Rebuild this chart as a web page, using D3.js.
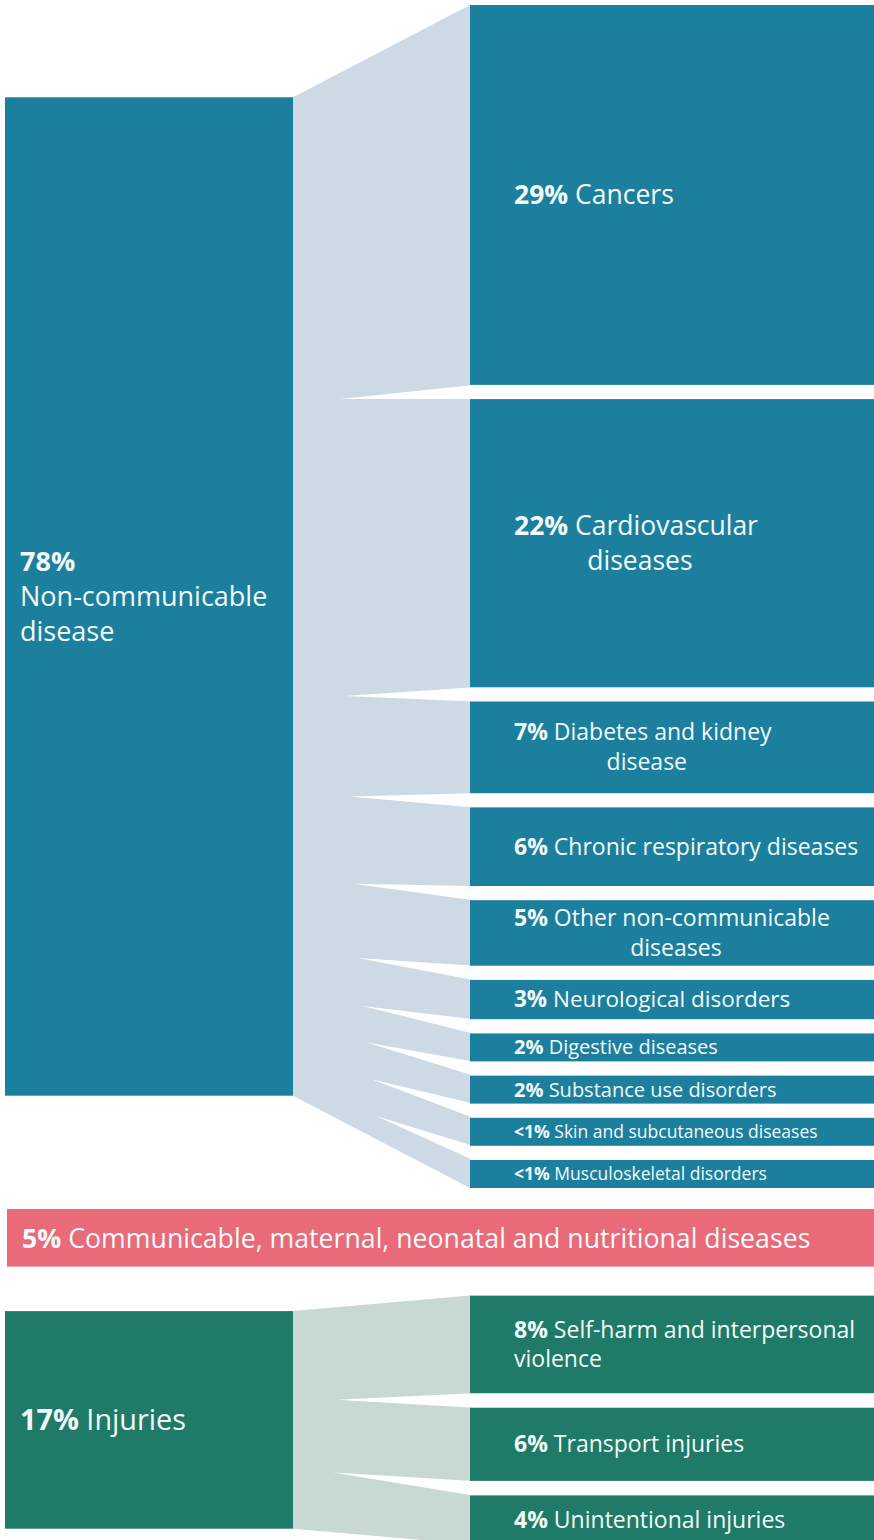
<!DOCTYPE html>
<html><head><meta charset="utf-8">
<script src="https://cdn.jsdelivr.net/npm/d3@7/dist/d3.min.js"></script>
<style>body{margin:0;background:#fff}svg{display:block}</style>
</head><body>
<script>
// ---------- DATA ----------
const groupCategories = ["Non-communicable disease", "Communicable, maternal, neonatal and nutritional diseases", "Injuries"];
const groupValues = [78, 5, 17];
const groupLabels = ["78%", "5%", "17%"];

const ncdCategories = ["Cancers", "Cardiovascular diseases", "Diabetes and kidney disease", "Chronic respiratory diseases",
  "Other non-communicable diseases", "Neurological disorders", "Digestive diseases", "Substance use disorders",
  "Skin and subcutaneous diseases", "Musculoskeletal disorders"];
const ncdValues = [29, 22, 7, 6, 5, 3, 2, 2, 0.5, 0.5];
const ncdLabels = ["29%", "22%", "7%", "6%", "5%", "3%", "2%", "2%", "<1%", "<1%"];
// text lines for the child labels (line 1, line 2)
const ncdLines = [["Cancers"], ["Cardiovascular", "diseases"], ["Diabetes and kidney", "disease"], ["Chronic respiratory diseases"],
  ["Other non-communicable", "diseases"], ["Neurological disorders"], ["Digestive diseases"], ["Substance use disorders"],
  ["Skin and subcutaneous diseases"], ["Musculoskeletal disorders"]];

const injCategories = ["Self-harm and interpersonal violence", "Transport injuries", "Unintentional injuries"];
const injValues = [8, 6, 4];
const injLabels = ["8%", "6%", "4%"];
const injLines = [["Self-harm and interpersonal", "violence"], ["Transport injuries"], ["Unintentional injuries"]];

// ---------- LAYOUT ----------
const W = 874, H = 1540;
const FONT = "'Open Sans', 'Noto Sans', sans-serif";
const C = {
  ncd: "#1c7f9d", ncdLink: "#cdd9e5",
  comm: "#e96b79",
  inj: "#1f7b67", injLink: "#c8d9d3",
  text: "#f2fafb"
};

const svg = d3.select("body").append("svg").attr("width", W).attr("height", H);

const leftX0 = 5, leftX1 = 293, rightX0 = 470, rightX1 = 874;
const groupScale = d3.scaleLinear().domain([0, 1]).range([0, 12.8]);   // px per %
const childScale = d3.scaleLinear().domain([0, 1]).range([0, 13.1]);
const injChildScale = d3.scaleLinear().domain([0, 1]).range([0, 12.2]);

function childFont(v) { return v >= 10 ? 26.5 : v >= 5 ? 23 : v >= 3 ? 22.5 : v >= 2 ? 20 : 17.5; }

function drawBlock(opts) {
  const { top, values, scale, minH, gap, groupValue, color, linkColor, lines, labels, groupLines, groupFont, groupLineH, tipBase, tipStep, tipX0, tipXStep, center2, childFontFn } = opts;
  const heights = values.map(v => Math.max(minH, scale(v)));
  const ys = [];
  let y = top;
  heights.forEach(h => { ys.push(y); y += h + gap; });
  const rightBottom = ys[ys.length - 1] + heights[heights.length - 1];
  const mid = (top + rightBottom) / 2;
  const lh = groupScale(groupValue);
  const lTop = mid - lh / 2, lBot = mid + lh / 2;

  const g = svg.append("g");
  // connector
  g.append("path").attr("fill", linkColor)
    .attr("d", d3.line()([[leftX1, lTop], [rightX0, top], [rightX0, rightBottom], [leftX1, lBot]]) + "Z");
  // wedges between children
  for (let i = 0; i < values.length - 1; i++) {
    const gTop = ys[i] + heights[i], gBot = ys[i + 1];
    const tip = [tipX0 + i * tipXStep, gBot - tipBase - i * tipStep];
    g.append("path").attr("fill", "#fff")
      .attr("d", d3.line()([tip, [rightX0 + 3, gTop], [rightX0 + 3, gBot]]) + "Z");
  }
  // left bar
  g.append("rect").attr("x", leftX0).attr("y", lTop).attr("width", leftX1 - leftX0).attr("height", lh).attr("fill", color);
  // right bars
  g.selectAll("rect.child").data(values).enter().append("rect").attr("class", "child")
    .attr("x", rightX0).attr("y", (d, i) => ys[i]).attr("width", rightX1 - rightX0).attr("height", (d, i) => heights[i])
    .attr("fill", color);
  // child labels
  values.forEach((v, i) => {
    const fs = childFontFn(v);
    const ln = lines[i];
    const lineH = fs * 1.3;
    const cy = ys[i] + heights[i] / 2 - (ln.length - 1) * lineH / 2;
    const t1 = g.append("text").attr("x", 514).attr("y", cy).attr("dy", "0.35em")
      .attr("font-family", FONT).attr("font-size", fs).attr("fill", C.text);
    t1.append("tspan").attr("font-weight", 700).text(labels[i]);
    t1.append("tspan").text(" " + ln[0]);
    if (ln.length > 1) {
      const w1 = t1.node().getComputedTextLength();
      const t2 = g.append("text").attr("y", cy + lineH).attr("dy", "0.35em")
        .attr("font-family", FONT).attr("font-size", fs).attr("fill", C.text).text(ln[1]);
      if (center2) t2.attr("x", 514 + w1 / 2 + 4).attr("text-anchor", "middle");
      else t2.attr("x", 514);
    }
  });
  // group label
  const gl = groupLines;
  const glh = groupLineH;
  const gy = mid - (gl.length - 1) * glh / 2;
  gl.forEach((line, j) => {
    const t = g.append("text").attr("x", 20).attr("y", gy + j * glh).attr("dy", "0.35em")
      .attr("font-family", FONT).attr("font-size", groupFont).attr("fill", C.text);
    line.forEach(seg => t.append("tspan").attr("font-weight", seg.b ? 700 : 400).text(seg.t));
  });
  return rightBottom;
}

const ncdBottom = drawBlock({
  top: 5, values: ncdValues, scale: childScale, minH: 28, gap: 14.2, groupValue: groupValues[0],
  color: C.ncd, linkColor: C.ncdLink, lines: ncdLines, labels: ncdLabels,
  groupLines: [[{ t: groupLabels[0], b: true }], [{ t: "Non-communicable" }], [{ t: "disease" }]],
  groupFont: 27, groupLineH: 35, tipBase: 0, tipStep: 5.5, tipX0: 340, tipXStep: 4.5, center2: true, childFontFn: childFont
});

// communicable bar
const commTop = ncdBottom + 21;
const commH = groupScale(groupValues[1]) * 0.9;
svg.append("rect").attr("x", 7).attr("y", commTop).attr("width", W - 7).attr("height", commH).attr("fill", C.comm);
const ct = svg.append("text").attr("x", 22).attr("y", commTop + commH / 2 + 1).attr("dy", "0.35em")
  .attr("font-family", FONT).attr("font-size", 26.7).attr("fill", C.text);
ct.append("tspan").attr("font-weight", 700).text(groupLabels[1]);
ct.append("tspan").text(" " + groupCategories[1]);

drawBlock({
  top: commTop + commH + 29, values: injValues, scale: injChildScale, minH: 28, gap: 14.5, groupValue: groupValues[2],
  color: C.inj, linkColor: C.injLink, lines: injLines, labels: injLabels,
  groupLines: [[{ t: groupLabels[2], b: true }, { t: " " + groupCategories[2] }]],
  groupFont: 28.8, groupLineH: 35, tipBase: 8, tipStep: 15, tipX0: 337, tipXStep: -4, center2: false, childFontFn: v => 23
});
</script>
</body></html>
